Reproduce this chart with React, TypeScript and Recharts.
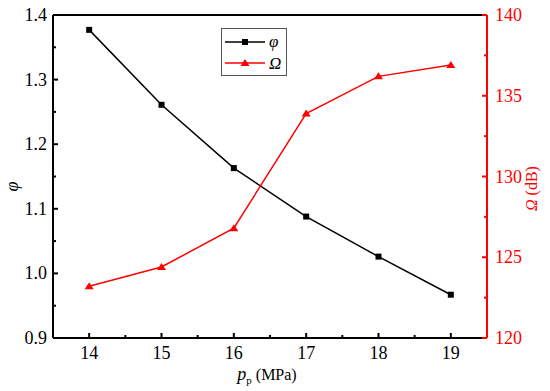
import React from 'react';
import {
  ComposedChart,
  Line,
  XAxis,
  YAxis,
  Legend,
  Label,
  ReferenceLine,
} from 'recharts';

// p_p (MPa)
const pressure = [14, 15, 16, 17, 18, 19];
// phi (left axis)
const phi = [1.377, 1.261, 1.163, 1.088, 1.026, 0.967];
// Omega in dB (right axis)
const omega = [123.2, 124.4, 126.8, 133.9, 136.2, 136.9];

const xTicks = [14, 14.5, 15, 15.5, 16, 16.5, 17, 17.5, 18, 18.5, 19];
const phiTicks = [0.9, 0.95, 1.0, 1.05, 1.1, 1.15, 1.2, 1.25, 1.3, 1.35, 1.4];
const omegaTicks = [120, 122.5, 125, 127.5, 130, 132.5, 135, 137.5, 140];

const data = pressure.map((p, i) => ({ p, phi: phi[i], omega: omega[i] }));

const FONT = 'Liberation Serif';
const RED = '#ff0000';
const serif = { fontFamily: FONT };

const isWhole = (v: number, step: number) => Math.abs(v / step - Math.round(v / step)) < 1e-6;

const XTick = (props: any) => {
  const { x, y, payload } = props;
  const major = isWhole(payload.value, 1);
  return (
    <g>
      <line x1={x} y1={y} x2={x} y2={y - (major ? 5 : 3)} stroke="#000" strokeWidth={2} />
      {major && (
        <text x={x} y={y + 21} textAnchor="middle" style={serif} fontSize={18} fill="#000">
          {payload.value}
        </text>
      )}
    </g>
  );
};

const LeftTick = (props: any) => {
  const { x, y, payload } = props;
  const major = isWhole(payload.value, 0.1);
  return (
    <g>
      <line x1={x} y1={y} x2={x + (major ? 5 : 3)} y2={y} stroke="#000" strokeWidth={2} />
      {major && (
        <text x={x - 6} y={y + 6} textAnchor="end" style={serif} fontSize={18} fill="#000">
          {payload.value.toFixed(1)}
        </text>
      )}
    </g>
  );
};

const RightTick = (props: any) => {
  const { x, y, payload } = props;
  const major = isWhole(payload.value, 5);
  return (
    <g>
      <line x1={x} y1={y} x2={x - (major ? 5 : 3)} y2={y} stroke={RED} strokeWidth={2} />
      {major && (
        <text x={x + 8} y={y + 6} textAnchor="start" style={serif} fontSize={18} fill={RED}>
          {payload.value}
        </text>
      )}
    </g>
  );
};

const Square = (props: any) => {
  const { cx, cy, index } = props;
  return <rect key={`s${index}`} x={cx - 3} y={cy - 3} width={6} height={6} fill="#000" />;
};

const Triangle = (props: any) => {
  const { cx, cy, index } = props;
  return (
    <path
      key={`t${index}`}
      d={`M${cx},${cy - 4} L${cx + 4.5},${cy + 3} L${cx - 4.5},${cy + 3} Z`}
      fill={RED}
    />
  );
};

const LegendBox = () => (
  <svg width={66} height={48} style={{ display: 'block' }}>
    <rect x={0.5} y={0.5} width={65} height={47} fill="#fff" stroke="#555" strokeWidth={1} />
    <line x1={4} y1={14} x2={44} y2={14} stroke="#000" strokeWidth={1.5} />
    <rect x={21} y={11} width={6} height={6} fill="#000" />
    <text x={48} y={19} style={serif} fontStyle="italic" fontSize={17} fill="#000">φ</text>
    <line x1={4} y1={35} x2={44} y2={35} stroke={RED} strokeWidth={1.5} />
    <path d="M24,31 L28.5,38 L19.5,38 Z" fill={RED} />
    <text x={48} y={41} style={serif} fontStyle="italic" fontSize={17} fill="#000">Ω</text>
  </svg>
);

const XAxisLabel = (props: any) => {
  const { viewBox } = props;
  const cx = viewBox.x + viewBox.width / 2 - 3;
  const y = viewBox.y + 42;
  return (
    <text x={cx} y={y} textAnchor="middle" style={serif} fontSize={16} fill="#000">
      <tspan fontStyle="italic" fontSize={18}>p</tspan>
      <tspan fontSize={11} dy={4}>p</tspan>
      <tspan dy={-4}> (MPa)</tspan>
    </text>
  );
};

const PhiLabel = (props: any) => {
  const { viewBox } = props;
  const x = viewBox.x + 14;
  const y = viewBox.y + viewBox.height / 2 + 10;
  return (
    <text x={x} y={y} transform={`rotate(-90 ${x} ${y})`} textAnchor="middle" dominantBaseline="middle" style={serif} fontStyle="italic" fontSize={18} fill="#000">
      φ
    </text>
  );
};

const OmegaLabel = (props: any) => {
  const { viewBox } = props;
  const x = viewBox.x + 46;
  const y = viewBox.y + viewBox.height / 2 + 12;
  return (
    <text x={x} y={y} transform={`rotate(-90 ${x} ${y})`} textAnchor="middle" dominantBaseline="middle" style={serif} fontSize={16} fill={RED}>
      <tspan fontStyle="italic">Ω</tspan> (dB)
    </text>
  );
};

export default function App() {
  return (
    <div style={{ position: 'absolute', left: 0, top: 0, background: '#fff', fontFamily: FONT }}>
      <ComposedChart width={550} height={391} data={data} margin={{ top: 15, right: 0, bottom: 0, left: 0 }}>
        <XAxis
          dataKey="p"
          type="number"
          domain={[13.5, 19.5]}
          ticks={xTicks}
          interval={0}
          tick={<XTick />}
          tickSize={0}
          tickMargin={0}
          tickLine={false}
          height={53}
          axisLine={{ stroke: '#000', strokeWidth: 2 }}
        >
          <Label content={<XAxisLabel />} />
        </XAxis>
        <YAxis
          yAxisId="left"
          orientation="left"
          domain={[0.9, 1.4]}
          ticks={phiTicks}
          interval={0}
          tick={<LeftTick />}
          tickSize={0}
          tickMargin={0}
          tickLine={false}
          width={53}
          axisLine={{ stroke: '#000', strokeWidth: 2 }}
        >
          <Label content={<PhiLabel />} />
        </YAxis>
        <YAxis
          yAxisId="right"
          orientation="right"
          domain={[120, 140]}
          ticks={omegaTicks}
          interval={0}
          tick={<RightTick />}
          tickSize={0}
          tickMargin={0}
          tickLine={false}
          width={63}
          axisLine={{ stroke: RED, strokeWidth: 2 }}
        >
          <Label content={<OmegaLabel />} />
        </YAxis>
        <ReferenceLine yAxisId="left" y={1.4} stroke="#000" strokeWidth={2} />
        <Legend
          layout="vertical"
          align="center"
          verticalAlign="middle"
          content={<LegendBox />}
          wrapperStyle={{ left: 221, top: 28, width: 66, height: 48 }}
        />
        <Line
          yAxisId="left"
          dataKey="phi"
          type="linear"
          stroke="#000"
          strokeWidth={1.5}
          dot={Square}
          activeDot={false}
          isAnimationActive={false}
        />
        <Line
          yAxisId="right"
          dataKey="omega"
          type="linear"
          stroke={RED}
          strokeWidth={1.5}
          dot={Triangle}
          activeDot={false}
          isAnimationActive={false}
        />
      </ComposedChart>
    </div>
  );
}
